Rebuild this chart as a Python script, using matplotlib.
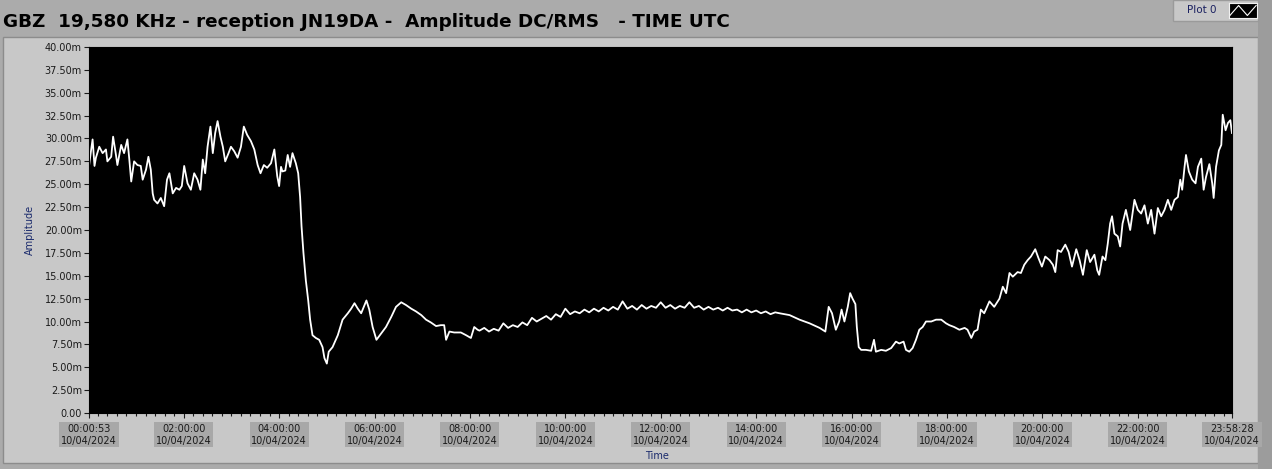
import matplotlib
matplotlib.use("Agg")
import matplotlib.pyplot as plt
from matplotlib.patches import Rectangle
from matplotlib.ticker import FuncFormatter, MultipleLocator

# amplitude trace (hours UTC, mV)
hours = [
    0.015, 0.06, 0.09, 0.13, 0.16, 0.23, 0.30, 0.37, 0.40, 0.48, 0.52, 0.58, 0.61, 0.69, 0.75,
    0.82, 0.86, 0.90, 0.96, 1.03, 1.10, 1.14, 1.21, 1.26, 1.31, 1.35, 1.38, 1.45, 1.52, 1.59,
    1.65, 1.70, 1.77, 1.84, 1.91, 1.96, 2.01, 2.08, 2.15, 2.22, 2.29, 2.35, 2.40, 2.45, 2.50,
    2.56, 2.61, 2.66, 2.71, 2.77, 2.82, 2.87, 2.94, 2.99, 3.06, 3.13, 3.20, 3.26, 3.33, 3.41,
    3.48, 3.55, 3.61, 3.68, 3.75, 3.83, 3.90, 3.96, 4.00,
    4.04, 4.07, 4.13, 4.18, 4.23, 4.28, 4.35, 4.40, 4.44, 4.47, 4.51, 4.56, 4.61, 4.65, 4.70,
    4.77, 4.84, 4.91, 4.95, 5.00, 5.04, 5.12, 5.23, 5.33, 5.44, 5.51, 5.58, 5.65, 5.72, 5.79,
    5.83, 5.89, 5.96, 6.04, 6.14, 6.24, 6.35, 6.45, 6.56, 6.66, 6.77, 6.87, 6.98, 7.08, 7.18,
    7.29, 7.39, 7.46, 7.50, 7.57, 7.67, 7.81, 7.92, 8.02, 8.09, 8.16,
    8.20, 8.30, 8.40, 8.50, 8.60, 8.70, 8.80, 8.90, 9.00, 9.10, 9.20, 9.30, 9.40, 9.50, 9.60,
    9.70, 9.80, 9.90, 10.00, 10.10, 10.20, 10.30, 10.40, 10.50, 10.60, 10.70, 10.80, 10.90,
    11.00, 11.10, 11.20, 11.30, 11.40, 11.50, 11.60, 11.70, 11.80, 11.90, 12.00, 12.10, 12.20,
    12.30, 12.40, 12.50, 12.60, 12.70, 12.80, 12.90, 13.00, 13.10, 13.20, 13.30, 13.40, 13.50,
    13.60, 13.70, 13.80, 13.90, 14.00, 14.10, 14.20, 14.30, 14.40,
    14.49, 14.70, 14.91, 15.12, 15.33, 15.45, 15.52, 15.59, 15.67, 15.74, 15.79, 15.85, 15.92,
    15.97, 16.02, 16.08, 16.11, 16.15, 16.20, 16.30, 16.41, 16.47, 16.51, 16.62, 16.72, 16.83,
    16.93, 17.00, 17.09, 17.14, 17.21, 17.28, 17.35, 17.42, 17.49, 17.56, 17.67, 17.77, 17.88,
    17.98, 18.05, 18.15, 18.26, 18.37, 18.43, 18.51, 18.57, 18.64, 18.71, 18.78, 18.89, 18.99,
    19.10, 19.17, 19.24, 19.31, 19.38, 19.48, 19.55,
    19.62, 19.69, 19.76, 19.85, 19.92, 19.99, 20.06, 20.15, 20.22, 20.27, 20.32, 20.39, 20.48,
    20.55, 20.62, 20.71, 20.78, 20.85, 20.93, 21.00, 21.09, 21.15, 21.19, 21.26, 21.32, 21.37,
    21.42, 21.46, 21.51, 21.58, 21.63, 21.68, 21.75, 21.84, 21.93, 22.00, 22.07, 22.14, 22.21,
    22.28, 22.35, 22.42, 22.49, 22.56, 22.63, 22.70, 22.77, 22.84, 22.89, 22.93, 22.98, 23.01,
    23.07, 23.14, 23.21, 23.26, 23.33, 23.38, 23.43, 23.50, 23.56, 23.59, 23.64, 23.70, 23.75,
    23.78, 23.84, 23.89, 23.94, 23.974,
]
amplitude_mv = [
    27.0, 28.8, 29.9, 27.0, 27.9, 29.1, 28.4, 28.8, 27.5, 28.0, 30.2, 28.2, 27.1, 29.3, 28.4,
    29.9, 27.7, 25.3, 27.5, 27.1, 27.0, 25.5, 26.6, 28.0, 26.6, 24.0, 23.3, 22.9, 23.5, 22.6,
    25.5, 26.2, 24.0, 24.6, 24.4, 24.8, 27.0, 25.1, 24.4, 26.2, 25.5, 24.4, 27.7, 26.2, 29.1,
    31.3, 28.4, 30.6, 31.9, 30.2, 29.1, 27.5, 28.4, 29.1, 28.6, 27.9, 29.1, 31.3, 30.4, 29.7,
    28.8, 27.1, 26.2, 27.1, 26.8, 27.3, 28.8, 25.9, 24.8,
    26.9, 26.4, 26.5, 28.2, 26.9, 28.4, 27.3, 26.2, 23.6, 20.4, 17.5, 14.5, 12.3, 10.2, 8.5,
    8.2, 8.0, 7.2, 6.0, 5.4, 6.7, 7.2, 8.5, 10.2, 10.9, 11.4, 12.0, 11.4, 10.9, 11.8,
    12.3, 11.3, 9.4, 8.0, 8.7, 9.4, 10.5, 11.6, 12.1, 11.8, 11.4, 11.1, 10.7, 10.2, 9.9,
    9.5, 9.6, 9.6, 8.0, 8.9, 8.8, 8.8, 8.5, 8.2, 9.4, 9.1,
    9.0, 9.3, 8.9, 9.2, 9.0, 9.8, 9.3, 9.6, 9.4, 9.9, 9.6, 10.4, 10.0, 10.3, 10.6,
    10.2, 10.8, 10.5, 11.4, 10.8, 11.1, 10.9, 11.3, 11.0, 11.4, 11.1, 11.5, 11.2,
    11.6, 11.3, 12.2, 11.4, 11.7, 11.3, 11.8, 11.4, 11.7, 11.5, 12.1, 11.5, 11.8,
    11.4, 11.7, 11.5, 12.1, 11.5, 11.7, 11.3, 11.6, 11.3, 11.5, 11.2, 11.5, 11.2,
    11.3, 11.0, 11.3, 11.0, 11.2, 10.9, 11.1, 10.8, 11.0,
    10.9, 10.7, 10.2, 9.8, 9.3, 8.9, 11.6, 10.9, 9.1, 10.0, 11.3, 10.0, 11.6,
    13.1, 12.5, 11.9, 9.4, 7.2, 6.9, 6.9, 6.8, 8.0, 6.7, 6.9, 6.8, 7.1,
    7.8, 7.6, 7.8, 6.9, 6.7, 7.1, 8.0, 9.1, 9.4, 10.0, 10.0, 10.2, 10.2,
    9.8, 9.6, 9.4, 9.1, 9.3, 9.1, 8.2, 8.9, 9.1, 11.3, 10.9, 12.2, 11.6,
    12.5, 13.8, 13.1, 15.3, 14.9, 15.4, 15.3,
    16.2, 16.7, 17.1, 17.9, 16.9, 16.0, 17.1, 16.7, 16.2, 15.4, 17.8, 17.6, 18.4,
    17.6, 16.0, 17.9, 16.7, 15.1, 17.8, 16.5, 17.3, 15.6, 15.1, 17.1, 16.7, 18.5,
    20.7, 21.5, 19.6, 19.3, 18.2, 20.7, 22.2, 20.0, 23.3, 22.2, 21.8, 22.7, 20.7,
    22.2, 19.6, 22.4, 21.5, 22.2, 23.3, 22.2, 23.3, 23.6, 25.5, 24.4, 26.9, 28.2,
    26.4, 25.5, 25.1, 26.9, 27.8, 24.4, 25.8, 27.2, 25.1, 23.5, 26.9, 28.7, 29.3,
    32.6, 30.9, 31.7, 32.0, 30.6,
]

t_start = 53 / 3600
t_end = 23 + 58 / 60 + 28 / 3600
tick_hours = [t_start, 2, 4, 6, 8, 10, 12, 14, 16, 18, 20, 22, t_end]
date_str = "10/04/2024"
title = "GBZ  19,580 KHz - reception JN19DA -  Amplitude DC/RMS   - TIME UTC"


def hms(h):
    s = int(round(h * 3600))
    return f"{s // 3600:02d}:{(s % 3600) // 60:02d}:{s % 60:02d}"


W, H = 1272, 469
fig = plt.figure(figsize=(W / 100, H / 100), dpi=100)
fig.patch.set_facecolor("#ababab")

# panel behind the graph
fig.add_artist(Rectangle((0.002, 0.012), 0.987, 0.909, transform=fig.transFigure,
                         facecolor="#c8c8c8", edgecolor="#8c8c8c", lw=1, zorder=-2))
fig.add_artist(Rectangle((1258 / W, 0), 14 / W, 1, transform=fig.transFigure,
                         facecolor="#9c9c9c", edgecolor="none", zorder=-2))

# "Plot 0" legend box
fig.add_artist(Rectangle((1173 / W, 1 - 21 / H), 85 / W, 21 / H, transform=fig.transFigure,
                         facecolor="#c8c8c8", edgecolor="#9a9a9a", lw=1, zorder=-1))
fig.text(1187 / W, 1 - 10 / H, "Plot 0", fontsize=7.5, color="#1a2060", va="center", ha="left")
lax = fig.add_axes([1229 / W, 1 - 18 / H, 28 / W, 15 / H])
lax.set_zorder(5)
lax.set_facecolor("black")
lax.plot([0, 1, 2, 3], [0.1, 0.9, 0.1, 0.9], color="white", lw=0.8)
lax.set_xlim(-0.1, 3.1)
lax.set_ylim(-0.1, 1.1)
lax.set_xticks([])
lax.set_yticks([])
for s in lax.spines.values():
    s.set_color("#f0f0f0")
    s.set_linewidth(0.8)

fig.text(3 / W, 1 - 22 / H, title, fontsize=13.2, fontweight="bold", color="black",
         family="DejaVu Sans", va="center", ha="left")

ax = fig.add_axes([89 / W, 1 - 413 / H, 1143 / W, 366 / H])
ax.set_facecolor("black")
ax.plot(hours, amplitude_mv, color="white", lw=1.3)

ax.set_xlim(t_start, t_end)
ax.set_ylim(0, 40)
ax.yaxis.set_major_locator(MultipleLocator(2.5))
ax.yaxis.set_major_formatter(FuncFormatter(lambda v, p: "0.00" if v == 0 else f"{v:.2f}m"))
ax.set_xticks(tick_hours)
ax.set_xticklabels([f"{hms(h)}\n{date_str}" for h in tick_hours])
ax.xaxis.set_minor_locator(MultipleLocator(0.2))

ax.tick_params(axis="y", direction="out", length=3.6, width=0.8, pad=1.5,
               labelsize=7, colors="#1a1a1a")
ax.tick_params(axis="x", which="major", direction="out", length=3.6, width=0.8, pad=4,
               labelsize=7, colors="#1a1a1a")
ax.tick_params(axis="x", which="minor", direction="out", length=2.2, width=0.8, colors="#1a1a1a")
for lbl in ax.get_xticklabels():
    lbl.set_bbox(dict(facecolor="#a8a8a8", edgecolor="none", pad=1.2))
    lbl.set_linespacing(1.25)
for s in ax.spines.values():
    s.set_color("black")

ax.set_ylabel("Amplitude", fontsize=7, color="#1a2a6c")
ax.yaxis.set_label_coords(-0.047, 0.5)
ax.set_xlabel("Time", fontsize=7, color="#1a2a6c", va="center")
ax.xaxis.set_label_coords(0.497, -0.1175)

fig.savefig("out.png", dpi=100, facecolor=fig.get_facecolor())
